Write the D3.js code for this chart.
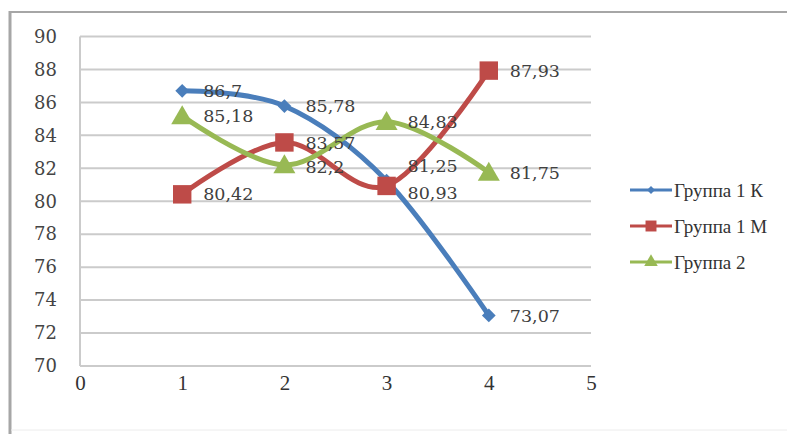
<!DOCTYPE html>
<html>
<head>
<meta charset="utf-8">
<script src="https://cdn.jsdelivr.net/npm/d3@7"></script>
<style>
  html, body { margin: 0; padding: 0; background: #fff; }
  svg { display: block; }
</style>
</head>
<body>
<svg id="chart" width="787" height="434"></svg>
<script>
// Measurement points (x axis) and each group's values
const xPoints = [1, 2, 3, 4];
const group1K = [86.7, 85.78, 81.25, 73.07];
const group1M = [80.42, 83.57, 80.93, 87.93];
const group2 = [85.18, 82.2, 84.83, 81.75];
const valueLabels1K = ["86,7", "85,78", "81,25", "73,07"];
const valueLabels1M = ["80,42", "83,57", "80,93", "87,93"];
const valueLabels2 = ["85,18", "82,2", "84,83", "81,75"];
const seriesNames = ["Группа 1 К", "Группа 1 М", "Группа 2"];
const xTicks = [0, 1, 2, 3, 4, 5];
const yTicks = [70, 72, 74, 76, 78, 80, 82, 84, 86, 88, 90];

// Vertical nudges (px) that keep crowded value labels apart
const labelShift1K = [0, 0, -15, 0];
const labelShift1M = [0, 0, 7, 0];
const labelShift2 = [0, 2, 0, 0];

const series = [
  { name: seriesNames[0], values: group1K, labels: valueLabels1K, shift: labelShift1K, color: "#4a7ebb", marker: "diamond" },
  { name: seriesNames[1], values: group1M, labels: valueLabels1M, shift: labelShift1M, color: "#be4b48", marker: "square" },
  { name: seriesNames[2], values: group2, labels: valueLabels2, shift: labelShift2, color: "#98b954", marker: "triangle" }
];

const numFont = "'DejaVu Serif', 'Liberation Serif', serif";
const textFont = "'Liberation Serif', 'DejaVu Serif', serif";

const svg = d3.select("#chart");

// Chart frame
svg.append("line").attr("x1", 10).attr("x2", 10).attr("y1", 11).attr("y2", 434)
  .attr("stroke", "#a6a6a6").attr("stroke-width", 3);
svg.append("line").attr("x1", 9).attr("x2", 787).attr("y1", 12).attr("y2", 12)
  .attr("stroke", "#a6a6a6").attr("stroke-width", 2);
svg.append("line").attr("x1", 11).attr("x2", 787).attr("y1", 430).attr("y2", 430)
  .attr("stroke", "#ececec").attr("stroke-width", 1);

const plot = { left: 80, right: 591, top: 36.5, bottom: 366 };

const x = d3.scaleLinear().domain([0, 5]).range([plot.left, plot.right]);
const y = d3.scaleLinear().domain([70, 90]).range([plot.bottom, plot.top]);

// Horizontal gridlines
svg.append("g")
  .selectAll("line")
  .data(yTicks)
  .join("line")
  .attr("x1", plot.left).attr("x2", plot.right)
  .attr("y1", d => y(d)).attr("y2", d => y(d))
  .attr("stroke", "#cbcbcb").attr("stroke-width", 2);

// Vertical axis line
svg.append("line")
  .attr("x1", plot.left).attr("x2", plot.left)
  .attr("y1", plot.top).attr("y2", plot.bottom)
  .attr("stroke", "#cbcbcb").attr("stroke-width", 2);

// Y axis labels
const yAxis = d3.axisLeft(y).tickValues(yTicks).tickSize(0).tickPadding(23).tickFormat(d3.format("d"));
const gy = svg.append("g").attr("transform", `translate(${plot.left},0)`).call(yAxis);
gy.select(".domain").remove();
gy.selectAll("text")
  .style("font-family", numFont)
  .style("font-size", "18px").attr("fill", "#444");

// X axis labels
const xAxis = d3.axisBottom(x).tickValues(xTicks).tickSize(0).tickPadding(9).tickFormat(d3.format("d"));
const gx = svg.append("g").attr("transform", `translate(0,${plot.bottom})`).call(xAxis);
gx.select(".domain").remove();
gx.selectAll("text")
  .style("font-family", textFont)
  .style("font-size", "21px").attr("fill", "#333");

// Marker shapes
const shapeType = { diamond: d3.symbolDiamond2 || d3.symbolDiamond, square: d3.symbolSquare, triangle: d3.symbolTriangle };
const markerSize = { diamond: 120, square: 340, triangle: 210 };
const legendMarkerSize = { diamond: 40, square: 120, triangle: 80 };

const line = d3.line()
  .x((d, i) => x(xPoints[i]))
  .y(d => y(d))
  .curve(d3.curveCardinal.tension(0));

series.forEach(s => {
  const g = svg.append("g");
  g.append("path")
    .attr("d", line(s.values))
    .attr("fill", "none")
    .attr("stroke", s.color)
    .attr("stroke-width", 5)
    .attr("stroke-linecap", "round");
  g.selectAll("path.marker")
    .data(s.values)
    .join("path")
    .attr("class", "marker")
    .attr("d", d3.symbol().type(shapeType[s.marker]).size(markerSize[s.marker]))
    .attr("transform", (d, i) => `translate(${x(xPoints[i])},${y(d) + (s.marker === "triangle" ? 2 : 0)})`)
    .attr("fill", s.color);
});

// Value labels to the right of each point
series.forEach(s => {
  svg.append("g")
    .selectAll("text")
    .data(s.values)
    .join("text")
    .attr("x", (d, i) => x(xPoints[i]) + 21)
    .attr("y", (d, i) => y(d) + s.shift[i])
    .attr("dy", "0.35em")
    .style("font-family", numFont)
    .style("font-size", "17.5px")
    .attr("fill", "#404040")
    .text((d, i) => s.labels[i]);
});

// Legend
const legend = svg.append("g").attr("transform", "translate(630,190)");
series.forEach((s, i) => {
  const row = legend.append("g").attr("transform", `translate(0,${i * 36})`);
  row.append("line").attr("x1", 0).attr("x2", 42).attr("y1", 0).attr("y2", 0)
    .attr("stroke", s.color).attr("stroke-width", 3);
  row.append("path")
    .attr("d", d3.symbol().type(shapeType[s.marker]).size(legendMarkerSize[s.marker]))
    .attr("transform", "translate(21,0)")
    .attr("fill", s.color);
  row.append("text")
    .attr("x", 44).attr("y", 0).attr("dy", "0.35em")
    .style("font-family", textFont)
    .style("font-size", "19px").attr("fill", "#333")
    .text(s.name);
});
</script>
</body>
</html>
